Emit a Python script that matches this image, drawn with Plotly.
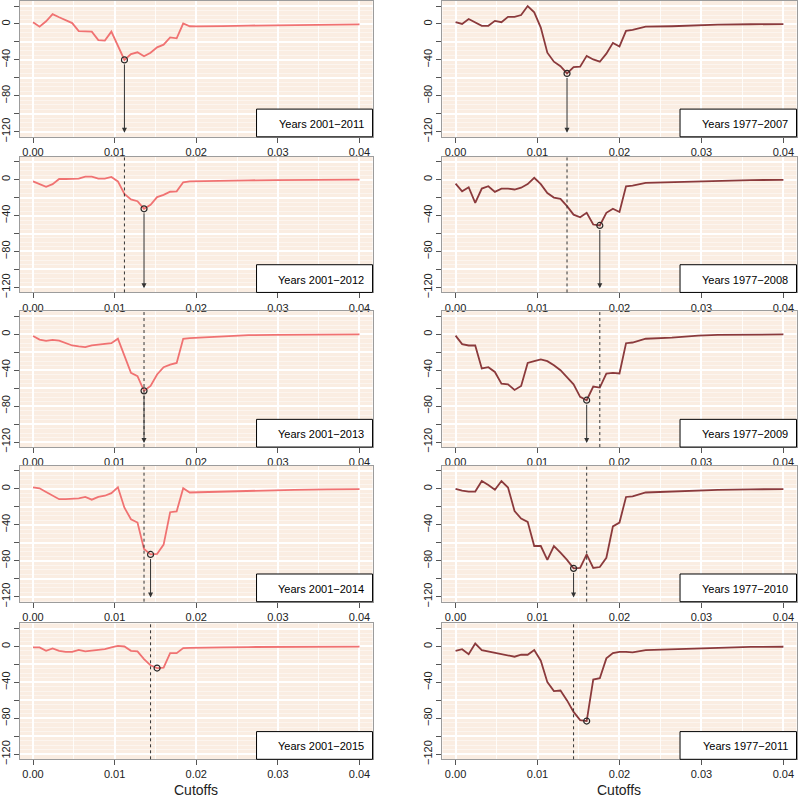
import plotly.graph_objects as go

# cutoff grid (x values shared by every panel)
CUTOFFS = [0.0, 0.0008, 0.0016, 0.0024, 0.0032, 0.004, 0.0048, 0.0056, 0.0064, 0.0072,
           0.008, 0.0088, 0.0096, 0.0104, 0.0112, 0.012, 0.0128, 0.0136, 0.0144, 0.0152,
           0.016, 0.0168, 0.0176, 0.0184, 0.0192, 0.02, 0.0208, 0.0216, 0.0232, 0.0264,
           0.0296, 0.032, 0.036, 0.04]

# left column: years 2001-2011 ... 2001-2015
L2011 = [2, -3, 3, 11, 7.5, 4, 1, -8, -8.2, -8.5, -18, -18.5, -8.5, -24, -40, -33.5, -31.5,
         -36, -32, -26, -23, -15, -16, 0.5, -2.5, -2.7, -2.7, -2.6, -2.3, -1.8, -1.3, -1, -0.6, -0.4]
L2012 = [-2, -5, -8, -5, 0.7, 0.7, 1, 1, 3.3, 3.3, 1, 1, 3, -2, -16, -22, -24, -32.5, -28,
         -19.5, -17, -13.5, -13, -3, -2, -1.8, -1.6, -1.5, -1.2, -0.8, -0.5, -0.3, -0.2, -0.1]
L2013 = [-2, -6, -7.3, -6.2, -7, -10, -12.5, -13.6, -14.3, -12.5, -11.7, -11, -10, -5, -24,
         -43, -46.6, -63, -57.6, -44.8, -36.7, -33.8, -32, -5, -4.4, -4, -3.6, -3.2, -2.4, -1,
         -0.6, -0.4, -0.2, -0.1]
L2014 = [1.8, 0.7, -3.5, -7.5, -11.5, -11.5, -11.3, -10.5, -9, -12, -9, -7.6, -4.7, 1.8, -21,
         -33.8, -37.5, -67, -73, -72.5, -62, -26, -25, 0.7, -4, -3.8, -3.6, -3.4, -3, -2, -1.5,
         -1, -0.5, -0.3]
L2015 = [-1, -1, -4.8, -2.2, -4.8, -6, -6, -3.7, -5.5, -4.8, -4, -3, -1, 0.7, 0, -4.8, -5.5,
         -14, -21, -24, -23.5, -7.4, -7.4, -1.8, -1.5, -1.3, -1.2, -1.1, -1, -0.6, -0.4, -0.3,
         -0.2, -0.1]

# right column: years 1977-2007 ... 1977-2011
R2007 = [2, 0, 5.5, 2, -2, -2, 3.5, 2, 8, 8, 10, 20, 13, -4, -32, -42, -47, -55, -48, -47.5,
         -35.5, -39.5, -42, -33, -21, -25, -7.6, -6.5, -3, -2.5, -1, -0.7, -0.3, -0.2]
R2008 = [-4.4, -13, -8.5, -26, -10, -7.4, -13.7, -10, -10, -11, -9, -5, 2, -5, -15, -20, -21.5,
         -29.5, -39, -42, -37, -50, -51, -37, -32.5, -36, -7.4, -6.6, -3.7, -3, -1.5, -1, -0.5, -0.3]
R2009 = [-1.5, -11, -12.5, -12.5, -38, -36.7, -42, -55, -55.8, -62, -57.6, -32, -30, -28, -30,
         -34.5, -40, -47.7, -55.8, -69.7, -73.4, -58.3, -59.4, -43.7, -43, -43.7, -10, -9.2, -5,
         -3.7, -1.5, -0.8, -0.4, -0.2]
R2010 = [0, -2, -3, -3, 8.7, 4.4, -1, 8.7, 1.5, -24.7, -33, -36.7, -63.6, -63.6, -79, -63.6,
         -71, -79, -88.5, -88, -73, -88, -87, -76.7, -41.8, -37.5, -9, -8.4, -4, -3, -1.5, -1,
         -0.5, -0.3]
R2011 = [-4.8, -3, -8.5, 3.3, -4, -5.5, -6.6, -7.7, -9.6, -11.4, -9.2, -9.2, -4, -15.8, -39.7,
         -49.6, -49, -60, -72.8, -82, -83, -36.8, -35.3, -13.2, -7.4, -5.9, -5.9, -6.6, -4, -3,
         -2, -1.2, -0.5, -0.3]

LEFT_LABELS = ["Years 2001−2011", "Years 2001−2012", "Years 2001−2013", "Years 2001−2014", "Years 2001−2015"]
RIGHT_LABELS = ["Years 1977−2007", "Years 1977−2008", "Years 1977−2009", "Years 1977−2010", "Years 1977−2011"]

LEFT_SERIES = [L2011, L2012, L2013, L2014, L2015]
RIGHT_SERIES = [R2007, R2008, R2009, R2010, R2011]

W, H = 798, 799
FONT = "Liberation Sans, Arial, sans-serif"
BG = "rgb(250,237,226)"
FRAME = "#9c9c9c"
LEFT_COLOR = "#f07272"
RIGHT_COLOR = "#8b3a3c"

panel_tops = [0, 157, 313, 469, 628]
panel_h = 137
col_x = [(20, 373), (443, 797.5)]

fig = go.Figure()
layout = dict(
    width=W, height=H, margin=dict(l=0, r=0, t=0, b=0),
    paper_bgcolor="white", plot_bgcolor=BG, showlegend=False,
    font=dict(family=FONT, size=11, color="#222"),
)
shapes, annotations = [], []

n = 0
for col, (series_list, labels, color) in enumerate([(LEFT_SERIES, LEFT_LABELS, LEFT_COLOR),
                                                      (RIGHT_SERIES, RIGHT_LABELS, RIGHT_COLOR)]):
    prev_opt = None
    for row, (ys, label) in enumerate(zip(series_list, labels)):
        n += 1
        xa = "x" if n == 1 else f"x{n}"
        ya = "y" if n == 1 else f"y{n}"
        top = panel_tops[row]
        x0, x1 = col_x[col]

        layout["xaxis" if n == 1 else f"xaxis{n}"] = dict(
            domain=[x0 / W, x1 / W], range=[-0.0016, 0.0416], anchor=ya,
            tickmode="array", tickvals=[0, 0.01, 0.02, 0.03, 0.04],
            ticktext=["0.00", "0.01", "0.02", "0.03", "0.04"],
            ticks="outside", ticklen=5, tickcolor="#555",
            showline=True, mirror=True, linecolor=FRAME, linewidth=1,
            showgrid=True, gridcolor="white", gridwidth=2, zeroline=False,
            minor=dict(tickmode="linear", tick0=0.005, dtick=0.01, showgrid=True,
                       gridcolor="rgba(255,255,255,0.8)", gridwidth=1),
            tickfont=dict(size=11),
        )
        layout["yaxis" if n == 1 else f"yaxis{n}"] = dict(
            domain=[1 - (top + panel_h) / H, 1 - top / H], range=[-125.6, 25.6], anchor=xa,
            tickmode="array", tickvals=[20, 0, -20, -40, -60, -80, -100, -120],
            ticktext=["", "0", "", "−40", "", "−80", "", "−120"], tickangle=-90,
            ticks="outside", ticklen=5, tickcolor="#555",
            showline=True, mirror=True, linecolor=FRAME, linewidth=1,
            showgrid=True, gridcolor="white", gridwidth=2, zeroline=False,
            minor=dict(tickmode="linear", tick0=0, dtick=5, showgrid=True,
                       gridcolor="rgba(255,255,255,0.45)", gridwidth=1),
            tickfont=dict(size=11),
        )

        fig.add_trace(go.Scatter(x=CUTOFFS, y=ys, mode="lines", xaxis=xa, yaxis=ya,
                                 line=dict(color=color, width=1.8)))

        # optimum of this panel
        i_min = min(range(len(ys)), key=lambda i: ys[i])
        x_opt, y_opt = CUTOFFS[i_min], ys[i_min]
        fig.add_trace(go.Scatter(x=[x_opt], y=[y_opt], mode="markers", xaxis=xa, yaxis=ya,
                                 marker=dict(symbol="circle-open", size=6, color="#2a2a2a",
                                             line=dict(width=1.2))))
        if row < 4:
            annotations.append(dict(
                x=x_opt, y=-121, ax=x_opt, ay=y_opt, xref=xa, yref=ya, axref=xa, ayref=ya,
                showarrow=True, arrowhead=2, arrowsize=1, arrowwidth=1, arrowcolor="#333",
                startstandoff=3, text=""))
        # dashed line at previous panel's optimum
        if prev_opt is not None:
            shapes.append(dict(type="line", xref=xa, yref=f"{ya} domain", x0=prev_opt, x1=prev_opt,
                               y0=0, y1=1, line=dict(color="#333", width=1, dash="3px,3px")))
        prev_opt = x_opt

        # label box
        shapes.append(dict(type="rect", xref=f"{xa} domain", yref=f"{ya} domain",
                           x0=0.671, x1=1, y0=0, y1=0.204,
                           fillcolor="white", line=dict(color="black", width=1)))
        annotations.append(dict(text=label, xref=f"{xa} domain", yref=f"{ya} domain",
                                x=0.982, y=0.095, xanchor="right", yanchor="middle",
                                showarrow=False, font=dict(size=11, color="black")))

    # axis title under the bottom panel
    x0, x1 = col_x[col]
    annotations.append(dict(text="Cutoffs", xref="paper", yref="paper",
                            x=(x0 + x1) / 2 / W, y=1 - 796 / H, xanchor="center", yanchor="middle",
                            showarrow=False, font=dict(size=14, color="#222")))

layout["shapes"] = shapes
layout["annotations"] = annotations
fig.update_layout(**layout)

# the page body has a default 8px margin; drop it so the figure fills the window
fig.write_html("out.html", config={"displayModeBar": False},
               post_script="document.body.style.margin='0';document.body.style.overflow='hidden';")
